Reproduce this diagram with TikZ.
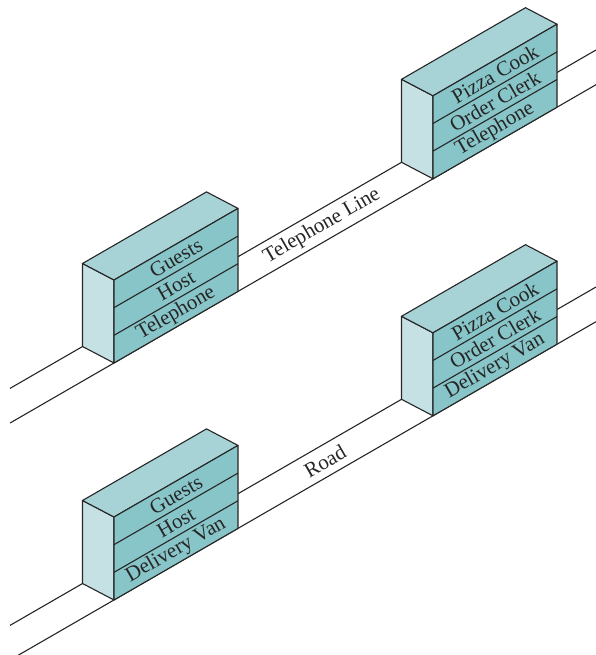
\documentclass[tikz,border=0pt]{standalone}
\usepackage{fontspec}
\setmainfont{Liberation Serif}
\usetikzlibrary{calc}
\definecolor{frontc}{RGB}{136,197,201}
\definecolor{topc}{RGB}{168,211,214}
\definecolor{sidec}{RGB}{197,225,228}
\tikzset{
  edge/.style={line width=1.1pt, draw=black!85, line join=round},
  wire/.style={line width=1.1pt, draw=black!85},
  lay/.style={rotate=30, font=\fontsize{21}{21}\selectfont, inner sep=0pt, text=black!85},
}
\newcommand\stackblock[6]{%
  \coordinate (#1F) at (#2,#3);
  \coordinate (#1B) at ($(#1F)+(124,-71.6)$);
  \coordinate (#1C) at ($(#1B)+(0,-83)$);
  \coordinate (#1D) at ($(#1F)+(0,-83)$);
  \coordinate (#1Fd) at ($(#1F)+(-31.5,-16.5)$);
  \coordinate (#1Dd) at ($(#1D)+(-31.5,-16.5)$);
  \coordinate (#1Cd) at ($(#1C)+(-31.5,-16.5)$);
  \filldraw[edge, fill=sidec] (#1F) -- (#1Fd) -- (#1Dd) -- (#1D) -- cycle;
  \filldraw[edge, fill=topc] (#1D) -- (#1Dd) -- (#1Cd) -- (#1C) -- cycle;
  \filldraw[edge, fill=frontc] (#1F) -- (#1B) -- (#1C) -- (#1D) -- cycle;
  \draw[edge] ($(#1F)+(0,-27.67)$) -- ($(#1B)+(0,-27.67)$);
  \draw[edge] ($(#1F)+(0,-55.33)$) -- ($(#1B)+(0,-55.33)$);
  \node[lay] (#1a) at ($(#1F)+(62,-35.8-69.17)$) {#4};
  \node[lay] (#1b) at ($(#1F)+(62,-35.8-41.5)$) {#5};
  \node[lay] (#1c) at ($(#1F)+(62,-35.8-13.83)$) {#6};
}
\begin{document}
\begin{tikzpicture}[x=1pt,y=-1pt]
\useasboundingbox (0,0) rectangle (596,655);
\clip (0,0) rectangle (596,655);
% upper road (telephone line)
\coordinate (uf1) at (10,423.04);
\coordinate (uf2) at (596,84.7);
\coordinate (ub1) at (10,388.4);
\coordinate (ub2) at (596,50.0);
\draw[wire] (uf1) -- (uf2);
\draw[wire] (ub1) -- (ub2);
% lower road
\coordinate (lf1) at (10,660.0);
\coordinate (lf2) at (596,321.7);
\coordinate (lb1) at (10,625.4);
\coordinate (lb2) at (596,287.0);
\draw[wire] (lf1) -- (lf2);
\draw[wire] (lb1) -- (lb2);
% blocks
\stackblock{ul}{114}{363}{Guests}{Host}{Telephone}
\stackblock{ur}{433}{178.8}{Pizza Cook}{Order Clerk}{Telephone}
\stackblock{ll}{114}{600}{Guests}{Host}{Delivery Van}
\stackblock{lr}{433}{415.8}{Pizza Cook}{Order Clerk}{Delivery Van}
% labels
\node[lay] (tline) at (322,226) {Telephone Line};
\node[lay] (road) at (325,461) {Road};
\end{tikzpicture}
\end{document}
